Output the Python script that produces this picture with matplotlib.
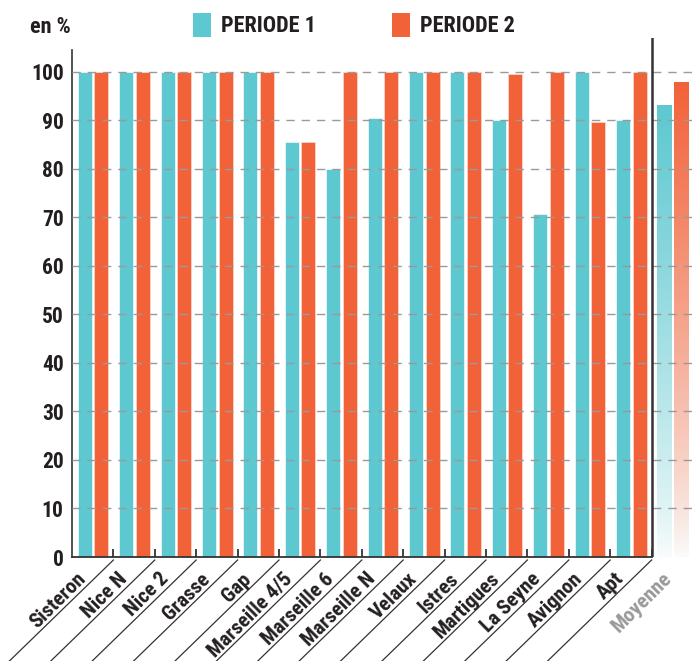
import matplotlib

matplotlib.use("Agg")
import matplotlib.pyplot as plt
import numpy as np
from matplotlib.patches import Patch

plt.rcParams["font.family"] = ["Roboto Condensed", "DejaVu Sans"]
plt.rcParams["font.stretch"] = "condensed"
plt.rcParams["font.weight"] = "bold"

sites = ["Sisteron", "Nice N", "Nice 2", "Grasse", "Gap", "Marseille 4/5", "Marseille 6",
         "Marseille N", "Velaux", "Istres", "Martigues", "La Seyne", "Avignon", "Apt"]
periode1 = [100, 100, 100, 100, 100, 85.6, 80, 90.5, 100, 100, 90, 70.7, 100, 90]
periode2 = [100, 100, 100, 100, 100, 85.6, 100, 100, 100, 100, 99.6, 100, 89.7, 100]
moyenne_label = "Moyenne"
moyenne1 = 93.2
moyenne2 = 98.0
yticks = list(range(0, 101, 10))

TEAL = "#5ec8d0"
ORANGE = "#f26239"
DARK = "#231f20"

W, H = 693, 661
fig = plt.figure(figsize=(W / 100, H / 100), dpi=100, facecolor="white")
ax = fig.add_axes([72 / W, 1 - 557 / H, (693 - 72) / W, (557 - 38) / H])

x = np.arange(len(sites))
bw = 0.34
ax.bar(x - 0.19, periode1, bw, color=TEAL, edgecolor="#e6f6f7", linewidth=0.6, zorder=2)
ax.bar(x + 0.21, periode2, bw, color=ORANGE, edgecolor="#fbd3c6", linewidth=0.6, zorder=2)

# moyenne: gradient bars fading to white at the bottom
xm = len(sites)
for off, val, col in [(-0.19, moyenne1, TEAL), (0.21, moyenne2, ORANGE)]:
    bar = ax.bar(xm + off, val, bw, color="none", edgecolor="none", zorder=2)[0]
    rgb = np.array(matplotlib.colors.to_rgb(col))
    t = np.linspace(1, 0, 256)[:, None] ** 0.8
    grad = (t * rgb + (1 - t) * np.array([0.98, 0.99, 0.99]))[:, None, :]
    im = ax.imshow(grad, extent=(xm + off - bw / 2, xm + off + bw / 2, 0, val),
                   aspect="auto", zorder=2, interpolation="bilinear")
    im.set_clip_path(bar)

ax.set_xlim(-0.5, len(sites) + 0.5)
ax.set_ylim(0, 107)

for v in yticks[1:]:
    ax.axhline(v, color="#9a9a9a", lw=1, ls=(0, (6, 5)), zorder=3)

ax.axvline(len(sites) - 0.5, color="#333333", lw=1.8, zorder=4)

for s in ["top", "right"]:
    ax.spines[s].set_visible(False)
ax.spines["left"].set_bounds(0, 104.5)
ax.spines["left"].set_color("#444444")
ax.spines["left"].set_linewidth(1.3)
ax.spines["bottom"].set_bounds(-0.5, len(sites) - 0.5)
ax.spines["bottom"].set_color("#333333")
ax.spines["bottom"].set_linewidth(1.3)

ax.set_yticks(yticks)
ax.set_yticklabels([str(v) for v in yticks])
ax.tick_params(axis="y", length=0, pad=6, labelsize=15.5, colors=DARK)

ax.set_xticks(np.arange(len(sites)) + 0.5)
ax.set_xticklabels([])
ax.tick_params(axis="x", direction="in", length=6, width=1.3, color="#333333")

# rotated category labels sitting between slanted separators
labels = sites + [moyenne_label]
for i, lab in enumerate(labels):
    is_avg = lab == moyenne_label
    ax.text(i + (0.0 if is_avg else -0.15), -4.7, lab, rotation=45, rotation_mode="anchor",
            ha="right", va="baseline", fontsize=15,
            color="#999999" if is_avg else DARK, clip_on=False)

trans = ax.transData
for b in np.arange(len(sites)) + 0.5:
    x0, y0 = trans.transform((b, 0))
    x1 = x0 - y0
    fig.add_artist(plt.Line2D([x0 / W, x1 / W], [(y0 - 3) / H, 0],
                              transform=fig.transFigure, color="#333333", lw=0.9))

fig.text(30 / W, 1 - 27 / H, "en %", fontsize=16, color=DARK, va="center", ha="left")

handles = [Patch(facecolor=TEAL, edgecolor="none"), Patch(facecolor=ORANGE, edgecolor="none")]
fig.legend(handles, ["PERIODE 1", "PERIODE 2"], loc="center left", bbox_to_anchor=(173 / W, 1 - 25 / H),
           ncol=2, frameon=False, fontsize=16, handlelength=0.8, handleheight=1.3,
           handletextpad=0.45, columnspacing=3.45, labelcolor=DARK)

fig.savefig("out.png", dpi=100, facecolor="white")
